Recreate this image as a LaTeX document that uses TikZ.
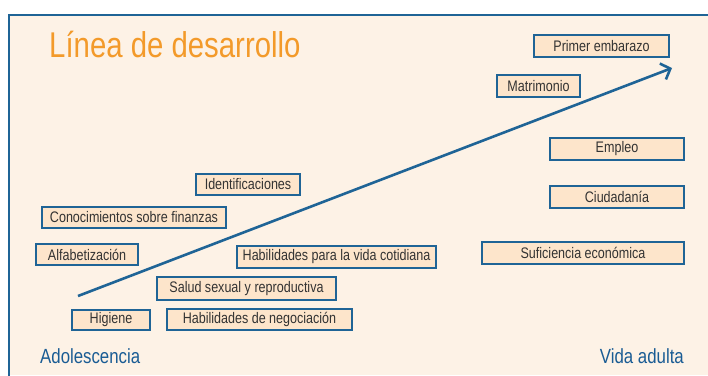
\documentclass[tikz,border=0pt]{standalone}
\usepackage{fontspec}
\setmainfont{Liberation Sans}[FakeStretch=0.82]
\usetikzlibrary{arrows.meta}
\definecolor{bgpeach}{HTML}{FDF2E6}
\definecolor{boxfill}{HTML}{FDE5CB}
\definecolor{frameblue}{HTML}{1F6496}
\definecolor{textgray}{HTML}{333333}
\definecolor{titleorange}{HTML}{F39A2A}
\definecolor{labelblue}{HTML}{1A5C94}
\tikzset{
  itembox/.style={draw=frameblue, line width=1.3pt, fill=boxfill, inner sep=0pt,
    text=textgray, font=\fontsize{15.3}{17}\selectfont},
}
\newcommand{\bx}[6]{% name, x1, y1, x2, y2, text
  \pgfmathsetmacro{\cxx}{(#2+#4)/2}\pgfmathsetmacro{\cyy}{-(#3+#5)/2}
  \pgfmathsetmacro{\ww}{#4-#2}\pgfmathsetmacro{\hh}{#5-#3}
  \node[itembox, minimum width=\ww pt, minimum height=\hh pt] (#1) at (\cxx pt,\cyy pt) {#6};}
\begin{document}
\begin{tikzpicture}[x=1pt,y=1pt]
\useasboundingbox (0,0) rectangle (708,-375);
\fill[bgpeach] (9,-15) rectangle (708,-375);
\draw[frameblue, line width=1.3pt] (9,-376) -- (9,-15) -- (709,-15);
\node[anchor=base west, inner sep=0pt, text=titleorange, font=\fontsize{35.8}{40}\selectfont] (title) at (49,-57) {Línea de desarrollo};
\bx{pe}{534}{35}{669}{57}{Primer embarazo}
\bx{mat}{497}{75}{580}{97}{Matrimonio}
\bx{emp}{550}{138}{684}{160}{Empleo}
\bx{ciu}{550}{186}{684}{208}{Ciudadanía}
\bx{suf}{482}{242}{684}{264}{Suficiencia económica}
\bx{ide}{196}{174}{300}{195}{Identificaciones}
\bx{con}{42}{207}{226}{228}{Conocimientos sobre finanzas}
\bx{alf}{36}{244}{138}{265}{Alfabetización}
\bx{hab}{237}{246}{436}{268}{Habilidades para la vida cotidiana}
\bx{sal}{157}{277}{336}{300}{Salud sexual y reproductiva}
\bx{hig}{72}{310}{150}{330}{Higiene}
\bx{neg}{167}{309}{352}{330}{Habilidades de negociación}
\coordinate (a0) at (78,-296);
\coordinate (a1) at (672,-68);
\draw[frameblue, line width=2.6pt, -{Straight Barb[length=8pt,width=17pt]}] (a0) -- (a1);
\node[anchor=base west, inner sep=0pt, text=labelblue, font=\fontsize{20.5}{24}\selectfont] (ado) at (40,-363) {Adolescencia};
\node[anchor=base east, inner sep=0pt, text=labelblue, font=\fontsize{20.5}{24}\selectfont] (vid) at (684,-363) {Vida adulta};
\end{tikzpicture}
\end{document}
